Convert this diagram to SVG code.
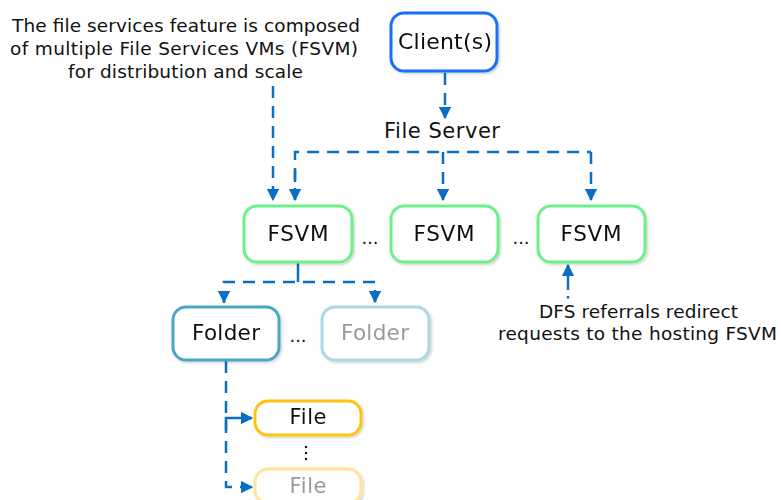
<svg xmlns="http://www.w3.org/2000/svg" width="781" height="500" viewBox="0 0 781 500">
<defs>
<marker id="ah" viewBox="0 0 10 10" refX="9" refY="5" markerWidth="5" markerHeight="5" orient="auto" markerUnits="strokeWidth">
<path d="M0,0 L10,5 L0,10 z" fill="#0a6fc2"/>
</marker>
<filter id="sh" x="-10%" y="-10%" width="130%" height="130%">
<feDropShadow dx="1.5" dy="1.5" stdDeviation="1" flood-color="#000" flood-opacity="0.18"/>
</filter>
</defs>
<style>
text{font-family:"DejaVu Sans","Liberation Sans",sans-serif;fill:#111}
.box{fill:#fff;stroke-width:3}
.lbl{font-size:21.5px;text-anchor:middle}
.note{font-size:18.5px;text-anchor:middle}
.c{fill:none;stroke:#0a6fc2;stroke-width:2.5;stroke-dasharray:12 8}
.s{fill:none;stroke:#0a6fc2;stroke-width:2.5}
.dim{fill:#9a9a9a}
</style>
<rect width="781" height="500" fill="#fff"/>

<g id="connectors">
<path class="c" d="M445,73 V118" marker-end="url(#ah)"/>
<path class="c" d="M273,86 V200" marker-end="url(#ah)"/>
<path class="c" d="M295,200 V152 H591"/>
<path class="c" d="M295,170 V200" marker-end="url(#ah)"/>
<path class="c" d="M443,152 V200" marker-end="url(#ah)"/>
<path class="c" d="M591,152 V200" marker-end="url(#ah)"/>
<path class="s" d="M298,263 V282"/>
<path class="c" d="M224,303 V282 H375 V303"/>
<path class="s" d="M224,292 V302" marker-end="url(#ah)"/>
<path class="s" d="M375,292 V302" marker-end="url(#ah)"/>
<path class="c" d="M226,361 V487 H252" marker-end="url(#ah)"/>
<path class="s" d="M226,430 V418 H252" marker-end="url(#ah)"/>
<path class="s" d="M568,290 V265" marker-end="url(#ah)"/>
<path class="s" d="M568,296 V298.5"/>
</g>

<g id="client" filter="url(#sh)">
<rect class="box" x="391" y="13" width="106" height="58" rx="13" stroke="#1a6ef5"/>
<text class="lbl" x="445" y="49" style="font-size:22px" textLength="94">Client(s)</text>
</g>

<g id="file-server-label">
<text class="note" x="442" y="138" style="font-size:21px" textLength="116">File Server</text>
</g>

<g id="note-fsvm">
<text class="note" x="186" y="32" textLength="348">The file services feature is composed</text>
<text class="note" x="184" y="55" textLength="348">of multiple File Services VMs (FSVM)</text>
<text class="note" x="185.5" y="78" textLength="235">for distribution and scale</text>
</g>

<g id="fsvm1" filter="url(#sh)">
<rect class="box" x="244" y="206" width="108" height="56" rx="13" stroke="#6cf08a"/>
<text class="lbl" x="298" y="241" textLength="61">FSVM</text>
</g>
<g id="fsvm2" filter="url(#sh)">
<rect class="box" x="391" y="206" width="107" height="56" rx="13" stroke="#6cf08a"/>
<text class="lbl" x="444" y="241" textLength="61">FSVM</text>
</g>
<g id="fsvm3" filter="url(#sh)">
<rect class="box" x="538" y="206" width="107" height="56" rx="13" stroke="#6cf08a"/>
<text class="lbl" x="591" y="241" textLength="61">FSVM</text>
</g>
<text x="370" y="244" font-size="18" text-anchor="middle">...</text>
<text x="521" y="244" font-size="18" text-anchor="middle">...</text>

<g id="note-dfs">
<text class="note" x="638.5" y="318" textLength="199">DFS referrals redirect</text>
<text class="note" x="637.5" y="340" textLength="279">requests to the hosting FSVM</text>
</g>

<g id="folder1" filter="url(#sh)">
<rect class="box" x="173" y="307" width="106" height="53" rx="13" stroke="#4aa6c6"/>
<text class="lbl" x="226" y="340" textLength="68">Folder</text>
</g>
<g id="folder2" filter="url(#sh)">
<rect class="box" x="322" y="307" width="107" height="53" rx="13" stroke="#a9d9e7"/>
<text class="lbl dim" x="375" y="340" textLength="68">Folder</text>
</g>
<text x="298" y="342" font-size="18" text-anchor="middle">...</text>

<g id="file1" filter="url(#sh)">
<rect class="box" x="255" y="401" width="106" height="34" rx="13" stroke="#ffc20e"/>
<text class="lbl" x="308" y="424" style="font-size:21px" textLength="37">File</text>
</g>
<g id="file2" filter="url(#sh)">
<rect class="box" x="255" y="469" width="106" height="34" rx="13" stroke="#ffe49a"/>
<text class="lbl dim" x="308" y="493" style="font-size:21px" textLength="37">File</text>
</g>
<g id="vdots" fill="#111">
<circle cx="306" cy="447" r="1.2"/>
<circle cx="306" cy="453" r="1.2"/>
<circle cx="306" cy="459" r="1.2"/>
</g>
</svg>
